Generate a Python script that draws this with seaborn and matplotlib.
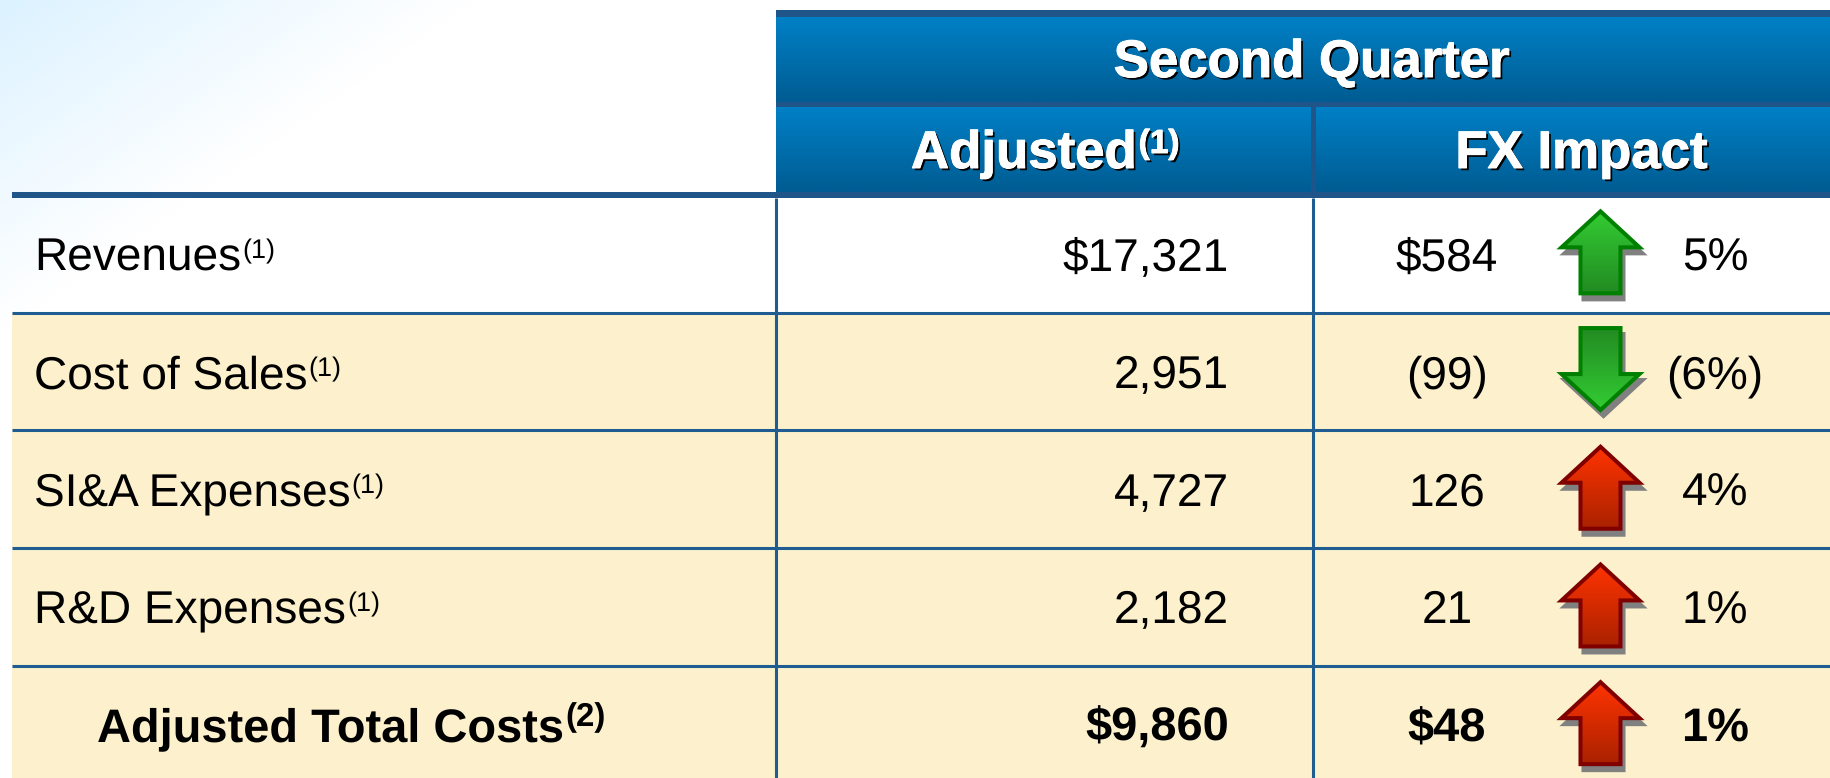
import numpy as np
import matplotlib
matplotlib.use("Agg")
import matplotlib.pyplot as plt
import matplotlib.patheffects as pe
from matplotlib.colors import ListedColormap, to_rgb
from matplotlib.patches import Polygon
import seaborn as sns

# table contents
header_top = "Second Quarter"
header_adjusted = "Adjusted"
header_fx = "FX Impact"
labels = ["Revenues", "Cost of Sales", "SI&A Expenses", "R&D Expenses", "Adjusted Total Costs"]
label_notes = ["(1)", "(1)", "(1)", "(1)", "(2)"]
adjusted = ["$17,321", "2,951", "4,727", "2,182", "$9,860"]
fx_amount = ["$584", "(99)", "126", "21", "$48"]
fx_pct = ["5%", "(6%)", "4%", "1%", "1%"]
fx_direction = ["up", "down", "up", "up", "up"]
fx_favourable = [True, True, False, False, False]
row_shaded = [0, 1, 1, 1, 1]

W, H = 1831, 778
ROW_TOP = 195
ROW_H = 117.7
N = len(labels)

LINE = "#1F5C92"
HEAD_DARK = "#1F5588"
CREAM = "#FCF1CC"
FONT = "Liberation Sans"

sns.set_theme(style="white")
plt.rcParams["font.family"] = [FONT, "DejaVu Sans"]
plt.rcParams["text.hinting"] = "no_hinting"
plt.rcParams["text.hinting_factor"] = 1


def vgrad(top, bottom, n=64):
    """Vertical colour ramp as an n x 1 RGB image."""
    t = np.linspace(0, 1, n)[:, None, None]
    return (1 - t) * np.array(to_rgb(top))[None, None, :] + t * np.array(to_rgb(bottom))[None, None, :]


def row_mid(i):
    return ROW_TOP + ROW_H * (i + 0.5)


def draw_arrow(ax, cx, cy, direction, good):
    sign = -1 if direction == "up" else 1
    border, light, dark = ("#008000", "#33CC33", "#228B22") if good else ("#800000", "#FF3300", "#AA2200")
    # outline in local coords, tip first; sign flips it for a down arrow
    shape = np.array([[0, 40.5], [39, 4.5], [20, 4.5], [20, -41.5],
                      [-20, -41.5], [-20, 4.5], [-39, 4.5]], dtype=float)
    pts = np.column_stack([cx + shape[:, 0], cy + sign * shape[:, 1]])
    ax.add_patch(Polygon(pts + [3, 6], closed=True, fc="#808080", ec="#808080", lw=2.9,
                         joinstyle="miter", zorder=4))
    ramp = vgrad(light, dark) if direction == "up" else vgrad(dark, light)
    im = ax.imshow(ramp, extent=(cx - 41, cx + 41, pts[:, 1].max(), pts[:, 1].min()),
                   aspect="auto", zorder=5)
    poly = Polygon(pts, closed=True, fc="none", ec=border, lw=2.9, joinstyle="miter", zorder=6)
    ax.add_patch(poly)
    im.set_clip_path(poly)


fig = plt.figure(figsize=(W / 100, H / 100), dpi=100)

# background wash, top-left corner
ax_bg = fig.add_axes([0, 0, 1, 1], zorder=0)
xx, yy = np.meshgrid(np.arange(0, 560, 4), np.arange(0, 360, 4))
t = np.clip(xx / 470 + yy / 330, 0, 1)[..., None]
ax_bg.imshow((1 - t) * np.array(to_rgb("#DCF2FF")) + t, extent=(0, 560, 360, 0), aspect="auto")
ax_bg.set_xlim(0, W)
ax_bg.set_ylim(H, 0)
ax_bg.axis("off")

# shaded rows, the table runs a little past the bottom of the figure
table_h = ROW_H * N
ax_rows = fig.add_axes([12 / W, 1 - (ROW_TOP + table_h) / H, (W - 12) / W, table_h / H], zorder=1)
shade = np.array(row_shaded, dtype=float)[:, None]
sns.heatmap(shade, ax=ax_rows, mask=shade == 0, cmap=ListedColormap([CREAM]), cbar=False,
            xticklabels=False, yticklabels=False, vmin=0, vmax=1)
ax_rows.patch.set_alpha(0)

# everything else in pixel coords
ax = fig.add_axes([0, 0, 1, 1], zorder=2)
ax.patch.set_alpha(0)

ax.imshow(vgrad("#0080C6", "#005C92"), extent=(776, W, 102, 17), aspect="auto", zorder=1)
ax.imshow(vgrad("#0080C6", "#005C92"), extent=(776, W, 192, 107), aspect="auto", zorder=1)
for y0, y1 in [(10, 17), (102, 107)]:
    ax.fill_between([776, W], y0, y1, color=HEAD_DARK, lw=0, zorder=2)
ax.fill_between([1311, 1316], 107, 192, color=HEAD_DARK, lw=0, zorder=2)
ax.fill_between([12, W], 191.5, 198, color=HEAD_DARK, lw=0, zorder=2)

for i in range(1, N):
    ax.plot([12, W], [ROW_TOP + ROW_H * i] * 2, color=LINE, lw=2.2, solid_capstyle="butt", zorder=3)
for x in [776, 1313.5]:
    ax.plot([x, x], [198, H], color=LINE, lw=2.2, solid_capstyle="butt", zorder=3)

shadow = [pe.withSimplePatchShadow(offset=(1.6, -1.6), shadow_rgbFace="black", alpha=1),
          pe.withStroke(linewidth=0.7, foreground="white")]
ax.text(1312.5, 77, header_top, color="white", fontsize=38, fontweight="bold", ha="center",
        va="baseline", path_effects=shadow, zorder=7)
ax.text(1582, 168, header_fx, color="white", fontsize=38, fontweight="bold", ha="center",
        va="baseline", path_effects=shadow, zorder=7)
t_adj = ax.text(911, 168, header_adjusted, color="white", fontsize=38, fontweight="bold", ha="left",
                va="baseline", path_effects=shadow, zorder=7)

ax.set_xlim(0, W)
ax.set_ylim(H, 0)
ax.axis("off")
renderer = fig.canvas.get_renderer()

ax.text(t_adj.get_window_extent(renderer).x1 + 1, 153, "(1)", color="white", fontsize=24,
        fontweight="bold", ha="left", va="baseline", path_effects=shadow, zorder=7)

for i in range(N):
    total = i == N - 1
    weight = "bold" if total else "normal"
    size = 34 if total else 33
    base = row_mid(i) + 16.5
    label = ax.text(97 if total else 34, base, labels[i], color="black", fontsize=size,
                    fontweight=weight, ha="left", va="baseline", zorder=7)
    ax.text(label.get_window_extent(renderer).x1 + 1, base - (15 if total else 12), label_notes[i],
            color="black", fontsize=24 if total else 19.5, fontweight=weight, ha="left", va="baseline", zorder=7)
    ax.text(1229, base, adjusted[i], color="black", fontsize=size, fontweight=weight, ha="right",
            va="baseline", zorder=7)
    ax.text(1447, base, fx_amount[i], color="black", fontsize=size, fontweight=weight, ha="center",
            va="baseline", zorder=7)
    ax.text(1715, base, fx_pct[i], color="black", fontsize=size, fontweight=weight, ha="center",
            va="baseline", zorder=7)
    draw_arrow(ax, 1600.5, row_mid(i) - 2, fx_direction[i], fx_favourable[i])

ax.set_xlim(0, W)
ax.set_ylim(H, 0)

fig.savefig("out.png", dpi=100)
